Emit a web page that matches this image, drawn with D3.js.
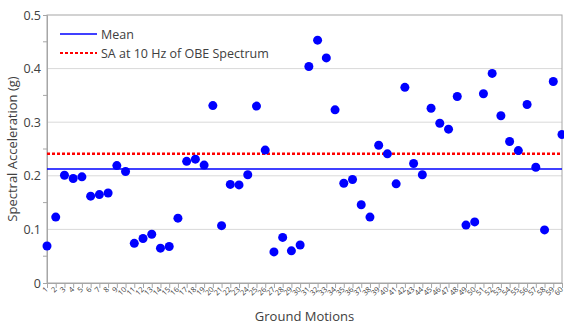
<!DOCTYPE html>
<html>
<head>
<meta charset="utf-8">
<script src="https://cdn.jsdelivr.net/npm/d3@7"></script>
<style>
  body { margin: 0; background: #fff; }
  text { font-family: "Open Sans", "Noto Sans", sans-serif; fill: #404040; }
</style>
</head>
<body>
<svg id="chart" width="564" height="325"></svg>
<script>
// ground motion numbers 1..60
const motions = d3.range(1, 61);

// spectral acceleration at 10 Hz for each ground motion (g)
const saValues = [
  0.069, 0.123, 0.201, 0.195, 0.198, 0.162, 0.165, 0.168, 0.219, 0.208,
  0.074, 0.083, 0.091, 0.065, 0.068, 0.121, 0.227, 0.231, 0.220, 0.331,
  0.107, 0.184, 0.183, 0.202, 0.330, 0.248, 0.058, 0.085, 0.060, 0.071,
  0.404, 0.453, 0.420, 0.323, 0.186, 0.193, 0.146, 0.123, 0.257, 0.241,
  0.185, 0.365, 0.223, 0.202, 0.326, 0.298, 0.287, 0.348, 0.108, 0.114,
  0.353, 0.391, 0.312, 0.264, 0.247, 0.333, 0.216, 0.099, 0.376, 0.277
];

const obeSA = 0.241;
const meanSA = 0.2127;
const yTicks = [0, 0.1, 0.2, 0.3, 0.4, 0.5];

const svg = d3.select('#chart');
const margin = { top: 15, right: 2, bottom: 42, left: 47 };
const width = 564 - margin.left - margin.right;
const height = 325 - margin.top - margin.bottom;

const g = svg.append('g')
  .attr('transform', `translate(${margin.left},${margin.top})`);

const x = d3.scaleLinear().domain([1, 60]).range([0, width]);
const y = d3.scaleLinear().domain([0, 0.5]).range([height, 0]);

// gridlines
g.append('g')
  .selectAll('line')
  .data(yTicks.slice(1, -1))
  .enter().append('line')
  .attr('x1', 0).attr('x2', width)
  .attr('y1', d => y(d)).attr('y2', d => y(d))
  .attr('stroke', '#d9d9d9')
  .attr('stroke-width', 1);

// frame
g.append('rect')
  .attr('x', 0).attr('y', 0)
  .attr('width', width).attr('height', height)
  .attr('fill', 'none')
  .attr('stroke', '#a6a6a6')
  .attr('stroke-width', 1);

// y axis with minor ticks
const yAxis = g.append('g')
  .call(d3.axisLeft(y).tickValues(yTicks).tickSize(4).tickFormat(d => d === 0 ? '0' : d3.format('.1f')(d)));
yAxis.select('.domain').attr('stroke', '#a6a6a6');
yAxis.selectAll('.tick line').attr('stroke', '#a6a6a6').attr('x2', 0);
yAxis.selectAll('.tick text').attr('font-size', 12.5).attr('x', -6);

g.append('g')
  .selectAll('line')
  .data(d3.range(0.05, 0.5, 0.1))
  .enter().append('line')
  .attr('x1', -4).attr('x2', 0)
  .attr('y1', d => y(d)).attr('y2', d => y(d))
  .attr('stroke', '#a6a6a6');

// x axis
const xAxis = g.append('g')
  .attr('transform', `translate(0,${height})`)
  .call(d3.axisBottom(x).tickValues(motions).tickSize(5).tickFormat(d3.format('d')));
xAxis.select('.domain').attr('stroke', '#a6a6a6');
xAxis.selectAll('.tick line').attr('stroke', '#a6a6a6');
xAxis.selectAll('.tick text')
  .attr('font-size', 7.5)
  .attr('text-anchor', 'end')
  .attr('dy', 0)
  .attr('y', 0)
  .attr('transform', 'translate(1,7) rotate(-45)');

// reference lines
g.append('line')
  .attr('x1', 0).attr('x2', width)
  .attr('y1', y(obeSA)).attr('y2', y(obeSA))
  .attr('stroke', '#ff0000')
  .attr('stroke-width', 2.5)
  .attr('stroke-dasharray', '3,2');

g.append('line')
  .attr('x1', 0).attr('x2', width)
  .attr('y1', y(meanSA)).attr('y2', y(meanSA))
  .attr('stroke', '#0000ff')
  .attr('stroke-width', 1.5);

// points
g.selectAll('.dot')
  .data(saValues)
  .enter().append('circle')
  .attr('class', 'dot')
  .attr('cx', (d, i) => x(motions[i]))
  .attr('cy', d => y(d))
  .attr('r', 4.5)
  .attr('fill', '#0000ff');

// legend
const legend = g.append('g').attr('transform', 'translate(13,19)');
legend.append('line')
  .attr('x1', 0).attr('x2', 37).attr('y1', 0).attr('y2', 0)
  .attr('stroke', '#0000ff').attr('stroke-width', 1.5);
legend.append('text')
  .attr('x', 41).attr('y', 4.5).attr('font-size', 12.5).text('Mean');
legend.append('line')
  .attr('x1', 0).attr('x2', 37).attr('y1', 19).attr('y2', 19)
  .attr('stroke', '#ff0000').attr('stroke-width', 2).attr('stroke-dasharray', '3,2');
legend.append('text')
  .attr('x', 41).attr('y', 23.5).attr('font-size', 12.5).text('SA at 10 Hz of OBE Spectrum');

// axis titles
svg.append('text')
  .attr('x', margin.left + width / 2)
  .attr('y', 321)
  .attr('text-anchor', 'middle')
  .attr('font-size', 13)
  .text('Ground Motions');

svg.append('text')
  .attr('transform', `translate(17,${margin.top + height / 2}) rotate(-90)`)
  .attr('text-anchor', 'middle')
  .attr('font-size', 13)
  .text('Spectral Acceleration (g)');
</script>
</body>
</html>
